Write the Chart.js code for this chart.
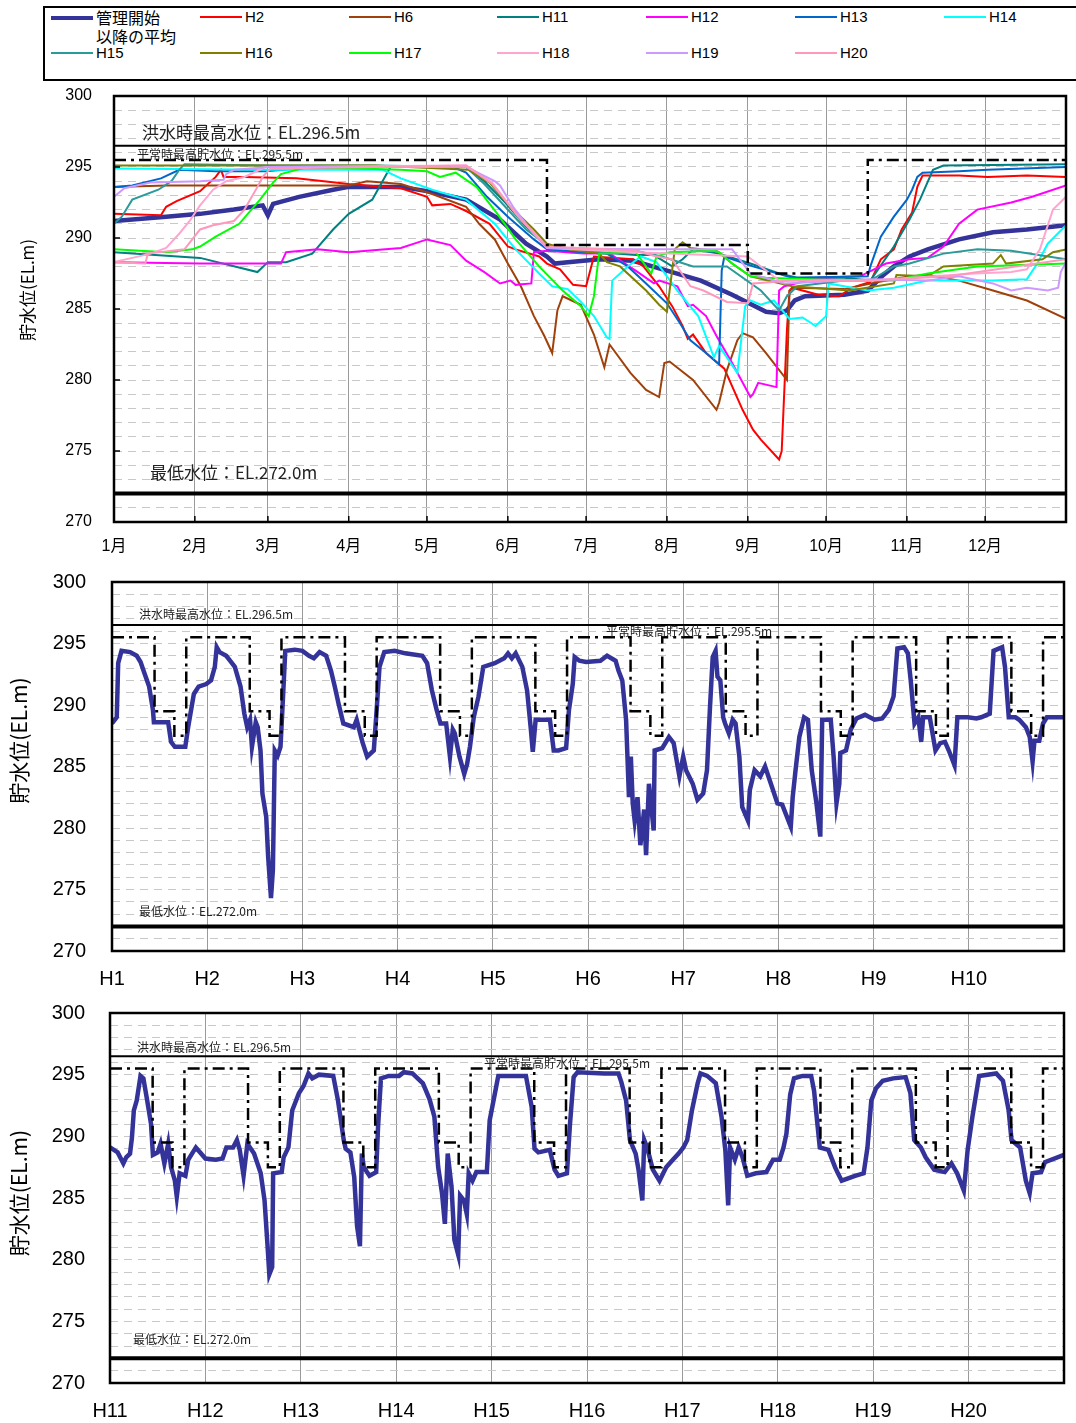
<!DOCTYPE html>
<html>
<head>
<meta charset="utf-8">
<script src="https://cdn.jsdelivr.net/npm/chart.js@4.4.0/dist/chart.umd.min.js"></script>
<style>
  body { margin: 0; background: #fff; width: 1076px; height: 1423px; position: relative; overflow: hidden;
         font-family: "Liberation Sans", Arial, sans-serif; }
  #legendBox { position: absolute; left: 43px; top: 6px; width: 1050px; height: 75px; border: 2px solid #000; box-sizing: border-box; }
  .item { position: absolute; display: flex; align-items: center; font-size: 15px; color: #000; height: 18px; line-height: 18px; }
  .item .sw { display: inline-block; width: 42px; margin-right: 3px; }
  .item.multi { align-items: flex-start; height: auto; font-family: "Noto Sans CJK JP"; font-size: 16px; line-height: 19px; }
  .item.multi .sw { margin-top: 8px; }
  canvas { position: absolute; left: 0; }
</style>
</head>
<body>
<div id="legendBox"></div>
<div id="legend"></div>
<canvas id="c1" width="1076" height="480" style="top:86px"></canvas>
<canvas id="c2" width="1076" height="430" style="top:570px"></canvas>
<canvas id="c3" width="1076" height="423" style="top:1000px"></canvas>
<script>
// ---- axis categories / tick labels ----
const monthStarts = [0, 31, 59, 90, 120, 151, 181, 212, 243, 273, 304, 334, 365];
const monthLabels = ['1月', '2月', '3月', '4月', '5月', '6月', '7月', '8月', '9月', '10月', '11月', '12月', ''];
const yearsA = ['H1', 'H2', 'H3', 'H4', 'H5', 'H6', 'H7', 'H8', 'H9', 'H10', ''];
const yearsB = ['H11', 'H12', 'H13', 'H14', 'H15', 'H16', 'H17', 'H18', 'H19', 'H20', ''];
const yLabelValues = [270, 275, 280, 285, 290, 295, 300];

// ---- reference levels (EL.m) ----
const floodLevel = 296.5;
const minLevel = 272.0;
// rule curve: [day of year, level]
const ruleTop = [[0, 295.5], [166, 295.5], [166, 289.5], [243, 289.5], [243, 287.5], [289, 287.5], [289, 295.5], [365, 295.5]];
// rule curve used in the multi-year charts: [fraction of year, level]
const ruleYear = [[0, 295.5], [0.447, 295.5], [0.447, 289.5], [0.655, 289.5], [0.655, 287.5], [0.78, 287.5], [0.78, 295.5], [1, 295.5]];

// ---- yearly water levels, [day of year, level] ----
const avgLevel = [[0,291.2],[20,291.5],[33,291.7],[46,292.0],[57,292.3],[59,291.6],[61,292.4],[71,292.9],[84,293.4],[90,293.6],[110,293.6],[120,293.3],[135,292.7],[148,291.3],[158,289.6],[166,288.7],[169,288.2],[174,288.3],[186,288.5],[199,288.4],[212,287.7],[225,287.0],[237,286.0],[250,284.8],[255,284.7],[258,284.9],[261,285.6],[265,285.9],[280,286.0],[289,286.3],[295,287.4],[299,288.0],[305,288.7],[312,289.2],[324,289.9],[337,290.4],[350,290.6],[365,290.9]];
const h2 = [[0,291.7],[18,291.6],[20,292.2],[24,292.6],[33,293.3],[39,294.3],[41,294.8],[42,294.3],[50,294.3],[70,294.2],[90,293.8],[110,293.5],[120,292.9],[122,292.3],[129,292.4],[135,291.9],[144,291.0],[151,289.4],[154,289.2],[163,288.7],[166,288.2],[171,287.8],[176,286.7],[181,286.6],[184,288.7],[199,288.5],[203,288.0],[209,286.6],[214,285.2],[218,283.8],[220,282.9],[222,283.2],[227,281.9],[234,280.8],[241,277.9],[245,276.5],[248,275.8],[255,274.4],[256,275.0],[258,283.5],[259,286.3],[260,286.5],[270,286.0],[278,285.9],[283,286.5],[290,286.9],[294,288.5],[299,289.2],[302,290.6],[306,291.8],[308,293.6],[310,294.4],[324,294.4],[335,294.3],[350,294.4],[365,294.3]];
const h6 = [[0,293.6],[20,293.7],[58,293.7],[90,293.7],[97,294.0],[110,293.8],[122,293.1],[135,292.2],[140,291.0],[146,289.9],[151,288.2],[156,286.6],[161,284.5],[165,283.1],[168,281.9],[170,284.9],[172,285.9],[179,285.3],[184,283.2],[188,280.9],[190,282.5],[198,280.5],[204,279.3],[209,278.8],[211,281.2],[213,281.3],[222,280.0],[231,277.9],[232,278.4],[235,280.7],[239,282.8],[241,283.3],[245,283.0],[250,281.9],[258,280.0],[259,286.3],[261,286.5],[280,286.4],[293,286.9],[305,287.3],[312,287.4],[324,287.0],[337,286.3],[350,285.6],[365,284.3]];
const h11 = [[0,289.0],[33,288.6],[55,287.6],[59,288.3],[66,288.3],[76,288.9],[84,290.6],[90,291.7],[99,292.7],[106,295.0],[135,295.0],[142,294.0],[150,292.5],[158,290.8],[166,289.4],[175,289.0],[186,289.0],[200,288.8],[207,288.8],[214,288.0],[218,288.5],[222,289.2],[232,288.9],[244,288.2],[255,287.5],[262,287.2],[280,287.2],[290,287.0],[299,289.4],[305,291.3],[309,292.7],[314,294.8],[318,295.1],[365,295.2]];
const h12 = [[0,288.3],[33,288.2],[64,288.2],[66,289.0],[78,289.2],[90,289.0],[110,289.3],[120,289.9],[129,289.5],[135,288.4],[142,287.6],[148,286.8],[152,287.0],[154,286.7],[160,286.8],[161,289.0],[166,289.1],[180,288.9],[190,288.9],[200,287.7],[207,286.8],[209,287.0],[216,286.6],[220,285.2],[222,285.3],[227,284.5],[231,283.1],[237,281.2],[244,278.8],[245,279.0],[247,279.8],[254,279.5],[255,286.3],[257,286.6],[270,287.2],[286,287.3],[296,288.2],[305,288.5],[312,288.6],[318,289.4],[324,291.0],[331,292.0],[344,292.5],[352,292.9],[365,293.7]];
const h13 = [[0,293.6],[7,293.7],[18,294.2],[25,294.8],[39,294.7],[58,294.7],[71,294.9],[100,295.0],[130,295.0],[135,294.6],[143,292.9],[151,291.5],[161,289.9],[166,289.2],[180,289.0],[189,288.9],[197,288.0],[204,286.8],[212,285.4],[217,284.0],[221,282.8],[227,281.9],[232,281.1],[233,287.7],[234,288.7],[245,288.0],[260,287.2],[289,287.3],[290,288.0],[294,290.1],[299,291.5],[304,292.7],[306,293.4],[308,294.3],[310,294.6],[324,294.7],[335,294.8],[365,295.0]];
const h14 = [[0,294.9],[58,294.8],[103,294.8],[110,294.2],[122,293.4],[135,292.7],[146,291.0],[154,289.2],[163,287.5],[168,286.6],[174,286.4],[179,285.5],[184,284.5],[189,283.0],[190,282.9],[191,287.0],[197,288.0],[202,288.7],[208,288.3],[216,286.3],[224,284.5],[230,281.6],[232,282.4],[239,280.5],[242,285.2],[244,285.6],[248,285.3],[253,285.6],[259,284.3],[264,284.4],[269,283.8],[273,284.5],[274,286.8],[289,286.3],[299,286.5],[312,287.0],[337,287.0],[350,287.1],[354,288.2],[358,289.6],[365,290.9]];
const h15 = [[0,291.0],[3,291.5],[7,292.7],[17,293.4],[22,294.0],[25,294.8],[27,295.2],[60,295.1],[100,295.1],[135,295.0],[142,293.8],[150,292.2],[158,290.6],[166,289.5],[175,289.2],[190,288.9],[200,289.1],[210,288.7],[222,288.0],[235,288.0],[248,286.3],[255,284.9],[258,285.9],[262,286.6],[280,287.0],[290,287.0],[299,288.0],[305,288.2],[318,288.9],[331,289.2],[344,289.1],[365,288.5]];
const h16 = [[0,295.1],[100,295.1],[136,294.8],[144,293.9],[152,292.2],[161,290.6],[166,289.6],[174,289.2],[186,288.9],[189,288.3],[194,288.0],[204,286.3],[209,285.3],[212,284.8],[215,289.2],[218,289.7],[221,289.3],[225,289.2],[231,289.1],[237,288.2],[244,287.3],[260,286.6],[282,286.3],[299,286.8],[300,287.4],[312,287.3],[318,288.0],[337,288.2],[340,288.8],[342,288.2],[356,288.5],[360,289.0],[365,289.2]];
const h17 = [[0,289.2],[20,289.0],[30,289.2],[33,289.4],[39,290.1],[48,291.0],[56,292.7],[61,293.9],[64,294.5],[74,295.0],[110,294.8],[120,294.7],[125,294.3],[131,294.6],[139,293.6],[147,291.7],[154,289.9],[163,288.0],[172,286.3],[179,285.2],[182,284.5],[184,285.9],[186,288.9],[200,289.0],[206,287.5],[208,288.7],[213,289.0],[230,289.1],[232,289.0],[237,288.2],[244,287.3],[250,287.2],[280,287.0],[299,287.0],[312,287.5],[331,288.0],[365,288.2]];
const h18 = [[0,288.3],[7,288.6],[14,288.9],[20,289.3],[25,290.3],[29,291.2],[33,292.3],[38,293.4],[43,294.0],[50,294.3],[58,295.0],[135,295.1],[145,293.9],[155,291.5],[166,289.3],[200,289.0],[243,288.7],[255,287.0],[290,287.0],[330,287.5],[344,287.6],[350,287.8],[355,289.2],[360,292.0],[365,292.9]];
const h19 = [[0,292.9],[4,293.5],[14,293.9],[33,294.0],[42,294.1],[43,294.5],[46,294.8],[60,295.0],[135,295.0],[146,294.0],[148,293.7],[153,292.2],[161,290.3],[166,289.3],[200,289.2],[237,289.2],[244,287.5],[257,286.8],[290,287.1],[312,287.0],[324,287.3],[337,286.8],[344,286.3],[350,286.5],[358,286.3],[362,286.5],[363,287.6],[365,288.3]];
const h20 = [[0,288.3],[12,288.2],[13,288.9],[27,289.2],[33,290.6],[38,290.9],[46,291.2],[50,292.0],[55,293.6],[57,294.3],[60,294.9],[100,295.0],[135,295.1],[145,293.8],[155,291.5],[166,289.4],[200,289.1],[208,288.7],[214,288.5],[221,286.6],[226,286.3],[235,285.5],[243,285.4],[245,286.8],[260,287.0],[290,287.0],[320,287.3],[365,288.5]];

// ---- long-term water levels, [years since start, level] ----
const levelH1toH10 = [[0.00,288.5],[0.05,289.0],[0.065,293.4],[0.10,294.4],[0.19,294.3],[0.26,294.0],[0.30,293.5],[0.34,292.6],[0.39,291.5],[0.43,289.6],[0.44,288.6],[0.59,288.6],[0.62,287.0],[0.66,286.6],[0.77,286.6],[0.80,288.2],[0.86,290.9],[0.91,291.5],[0.99,291.7],[1.04,292.0],[1.08,293.1],[1.10,294.7],[1.13,294.3],[1.20,294.0],[1.24,293.6],[1.29,293.1],[1.35,291.5],[1.39,289.3],[1.42,288.2],[1.45,288.8],[1.47,286.6],[1.51,288.6],[1.53,288.2],[1.56,286.3],[1.58,282.8],[1.62,280.9],[1.64,277.7],[1.67,274.3],[1.69,276.6],[1.71,286.3],[1.74,285.9],[1.77,286.6],[1.80,291.2],[1.82,294.4],[1.92,294.5],[2.00,294.4],[2.07,294.0],[2.12,293.8],[2.18,294.3],[2.25,294.0],[2.30,292.8],[2.34,291.5],[2.38,290.1],[2.43,288.5],[2.54,288.2],[2.57,288.8],[2.63,287.0],[2.68,285.8],[2.75,286.3],[2.78,289.6],[2.81,293.1],[2.86,294.3],[2.97,294.4],[3.08,294.2],[3.26,294.0],[3.31,293.4],[3.36,291.2],[3.41,289.6],[3.45,288.5],[3.51,288.5],[3.55,285.8],[3.58,288.0],[3.60,287.7],[3.65,285.8],[3.70,284.4],[3.73,285.2],[3.76,286.6],[3.80,289.0],[3.85,290.7],[3.90,293.1],[4.02,293.4],[4.12,293.8],[4.16,294.2],[4.20,293.8],[4.24,294.2],[4.31,293.1],[4.36,291.2],[4.40,288.0],[4.42,286.2],[4.45,288.8],[4.48,288.8],[4.60,288.8],[4.64,286.3],[4.69,286.3],[4.77,286.5],[4.80,289.6],[4.84,291.7],[4.86,293.9],[4.91,293.6],[4.98,293.5],[5.13,293.6],[5.20,294.0],[5.29,293.6],[5.32,292.8],[5.36,292.0],[5.40,288.8],[5.43,282.5],[5.45,285.8],[5.47,282.0],[5.49,280.6],[5.52,282.5],[5.55,278.6],[5.59,281.5],[5.61,277.8],[5.64,283.6],[5.69,279.8],[5.70,286.3],[5.78,286.5],[5.85,287.4],[5.90,286.9],[5.96,284.2],[6.00,285.8],[6.03,284.7],[6.10,283.6],[6.15,282.3],[6.21,282.8],[6.25,284.7],[6.28,289.6],[6.31,293.9],[6.34,294.4],[6.36,292.3],[6.39,292.0],[6.42,289.0],[6.44,288.5],[6.48,287.7],[6.52,288.8],[6.55,288.5],[6.59,285.8],[6.62,281.7],[6.68,280.6],[6.70,283.1],[6.75,284.7],[6.81,284.2],[6.86,285.0],[6.93,283.4],[6.99,282.0],[7.04,281.9],[7.13,280.1],[7.15,282.5],[7.18,284.7],[7.22,287.4],[7.27,289.0],[7.31,288.8],[7.35,284.7],[7.40,282.0],[7.44,279.3],[7.46,288.8],[7.55,288.8],[7.58,285.8],[7.61,282.0],[7.64,283.6],[7.65,286.1],[7.71,286.3],[7.76,288.0],[7.82,288.9],[7.91,289.2],[8.01,288.8],[8.09,288.9],[8.16,289.6],[8.21,290.7],[8.25,294.6],[8.32,294.7],[8.36,294.2],[8.39,292.0],[8.43,288.5],[8.47,289.0],[8.50,287.0],[8.52,289.0],[8.59,289.0],[8.65,286.3],[8.70,286.9],[8.75,287.0],[8.79,286.3],[8.85,285.1],[8.88,289.0],[8.99,289.0],[9.08,288.9],[9.13,289.0],[9.22,289.3],[9.26,294.4],[9.35,294.7],[9.38,293.1],[9.42,289.0],[9.49,289.0],[9.53,288.8],[9.60,288.2],[9.64,287.4],[9.67,285.4],[9.69,287.1],[9.74,287.1],[9.78,288.5],[9.82,289.0],[10.0,289.0]];
const levelH11toH20 = [[0.00,289.1],[0.08,288.7],[0.14,287.8],[0.17,288.3],[0.21,288.6],[0.23,289.9],[0.25,292.1],[0.28,292.9],[0.32,294.9],[0.35,294.7],[0.39,292.9],[0.43,291.0],[0.45,288.5],[0.50,288.7],[0.53,289.4],[0.57,287.8],[0.61,289.4],[0.64,287.5],[0.68,286.4],[0.70,285.1],[0.73,287.0],[0.79,286.8],[0.82,288.1],[0.90,289.1],[1.00,288.2],[1.11,288.1],[1.18,288.2],[1.22,289.1],[1.29,289.1],[1.33,289.7],[1.36,288.9],[1.40,286.8],[1.44,289.4],[1.51,288.6],[1.58,287.0],[1.62,284.8],[1.65,281.3],[1.67,278.8],[1.70,279.4],[1.71,287.0],[1.80,287.1],[1.82,288.3],[1.87,289.1],[1.91,292.1],[1.98,293.5],[2.03,294.1],[2.08,295.1],[2.12,294.7],[2.19,295.0],[2.34,294.9],[2.39,292.9],[2.45,289.7],[2.47,289.0],[2.52,288.7],[2.56,286.7],[2.59,282.7],[2.62,281.1],[2.64,288.6],[2.66,287.5],[2.72,286.8],[2.79,287.1],[2.81,290.8],[2.84,294.7],[2.92,294.9],[3.03,294.9],[3.08,295.2],[3.17,295.1],[3.28,294.3],[3.35,293.0],[3.40,291.6],[3.44,287.5],[3.48,285.4],[3.51,282.9],[3.54,288.6],[3.58,285.9],[3.61,281.6],[3.65,280.4],[3.67,285.2],[3.71,284.8],[3.74,283.7],[3.76,287.0],[3.80,286.4],[3.84,287.1],[3.95,287.1],[3.98,291.3],[4.04,293.7],[4.07,294.9],[4.18,294.9],[4.36,294.9],[4.42,292.4],[4.45,289.0],[4.49,288.7],[4.61,288.9],[4.66,287.3],[4.70,286.8],[4.79,287.0],[4.82,290.8],[4.86,294.8],[4.90,295.2],[5.18,295.1],[5.33,295.1],[5.36,294.4],[5.41,292.9],[5.45,289.7],[5.51,288.6],[5.54,287.3],[5.58,284.8],[5.60,289.7],[5.63,289.1],[5.69,287.3],[5.76,286.4],[5.83,287.5],[5.90,288.1],[5.96,288.6],[6.01,289.1],[6.05,289.7],[6.10,292.1],[6.16,294.3],[6.19,295.1],[6.26,294.9],[6.35,294.3],[6.41,291.6],[6.45,288.9],[6.48,284.4],[6.50,289.1],[6.55,288.1],[6.59,289.1],[6.63,288.3],[6.68,286.8],[6.77,287.0],[6.88,287.1],[6.95,288.1],[7.02,288.1],[7.06,289.1],[7.09,290.2],[7.13,293.4],[7.17,294.7],[7.26,294.9],[7.35,294.9],[7.38,293.7],[7.44,289.1],[7.53,288.9],[7.60,287.5],[7.63,287.0],[7.67,286.4],[7.81,286.8],[7.90,287.0],[7.94,289.1],[7.98,292.9],[8.03,293.9],[8.10,294.5],[8.21,294.7],[8.34,294.8],[8.39,293.5],[8.43,289.7],[8.50,289.1],[8.55,288.3],[8.64,287.3],[8.75,287.1],[8.82,287.8],[8.88,287.0],[8.95,285.6],[8.99,288.9],[9.04,291.6],[9.11,294.9],[9.29,295.1],[9.36,294.5],[9.42,292.1],[9.45,289.7],[9.54,289.1],[9.60,286.4],[9.64,285.4],[9.67,287.0],[9.76,287.1],[9.80,287.9],[10.0,288.5]];

const NAVY = '#333399';
const series = [
  { name: '管理開始\n以降の平均', data: avgLevel, color: NAVY, width: 4.5 },
  { name: 'H2',  data: h2,  color: '#ff0000', width: 2 },
  { name: 'H6',  data: h6,  color: '#a0400a', width: 2 },
  { name: 'H11', data: h11, color: '#008080', width: 2 },
  { name: 'H12', data: h12, color: '#ff00ff', width: 2 },
  { name: 'H13', data: h13, color: '#0066cc', width: 2 },
  { name: 'H14', data: h14, color: '#00ffff', width: 2 },
  { name: 'H15', data: h15, color: '#2a9a9a', width: 2 },
  { name: 'H16', data: h16, color: '#808000', width: 2 },
  { name: 'H17', data: h17, color: '#00ff00', width: 2 },
  { name: 'H18', data: h18, color: '#ffa6d0', width: 2 },
  { name: 'H19', data: h19, color: '#cc99ff', width: 2 },
  { name: 'H20', data: h20, color: '#ff99bb', width: 2 }
];

// ---- HTML legend ----
(function buildLegend() {
  const cols = [51, 200, 349, 497, 646, 795, 944];
  const rows = [8, 44];
  const box = document.getElementById('legend');
  series.forEach((s, i) => {
    const div = document.createElement('div');
    const multi = s.name.includes('\n');
    div.className = 'item' + (multi ? ' multi' : '');
    div.style.left = cols[i % 7] + 'px';
    div.style.top = rows[Math.floor(i / 7)] + 'px';
    const sw = document.createElement('span');
    sw.className = 'sw';
    sw.style.height = (s.width > 3 ? 4 : 2) + 'px';
    sw.style.background = s.color;
    const txt = document.createElement('span');
    txt.style.whiteSpace = 'pre-line';
    txt.textContent = s.name;
    div.appendChild(sw);
    div.appendChild(txt);
    box.appendChild(div);
  });
})();

const toXY = pts => pts.map(([x, y]) => ({ x, y }));
const flatLine = (x0, x1, v) => [{ x: x0, y: v }, { x: x1, y: v }];
function repeatRule(years) {
  const out = [];
  for (let k = 0; k < years; k++) ruleYear.forEach(([f, v]) => out.push({ x: k + f, y: v }));
  return out;
}
function refSets(x0, x1, rulePts) {
  return [
    { data: rulePts, borderColor: '#000', borderWidth: 2.5, borderDash: [12, 5, 3, 5] },
    { data: flatLine(x0, x1, floodLevel), borderColor: '#000', borderWidth: 2 },
    { data: flatLine(x0, x1, minLevel), borderColor: '#000', borderWidth: 4 }
  ];
}

// frame, notes, small tick marks and the rotated axis title
const decor = {
  id: 'decor',
  afterDatasetsDraw(chart, args, o) {
    const { ctx, chartArea: a, scales: { x, y } } = chart;
    ctx.save();
    if (o.marks) {
      ctx.strokeStyle = '#000'; ctx.lineWidth = 1.5;
      ctx.beginPath();
      yLabelValues.forEach(v => { const py = y.getPixelForValue(v); ctx.moveTo(a.left, py); ctx.lineTo(a.left + 6, py); });
      monthStarts.forEach(v => { const px = x.getPixelForValue(v); ctx.moveTo(px, a.bottom); ctx.lineTo(px, a.bottom - 6); });
      ctx.stroke();
    }
    ctx.fillStyle = '#222';
    ctx.textBaseline = 'middle';
    ctx.textAlign = 'left';
    o.notes.forEach(n => {
      ctx.font = n.size + 'px "Noto Sans CJK JP"';
      ctx.fillText(n.text, a.left + n.dx, y.getPixelForValue(n.at));
    });
    ctx.strokeStyle = '#000';
    ctx.lineWidth = 2.5;
    ctx.strokeRect(a.left, a.top, a.right - a.left, a.bottom - a.top);

    const t = o.title;
    ctx.translate(t.x, (a.top + a.bottom) / 2 + t.dy);
    ctx.rotate(-Math.PI / 2);
    ctx.fillStyle = '#000';
    ctx.textAlign = 'center';
    ctx.font = t.size + 'px "Noto Sans CJK JP"';
    ctx.fillText('貯水位(EL.m)', 0, 0);
    ctx.restore();
  }
};

function buildChart(id, c) {
  const levels = [];
  for (let v = 270; v <= 300; v++) levels.push(v);
  return new Chart(document.getElementById(id), {
    type: 'line',
    data: { datasets: c.datasets },
    options: {
      responsive: false,
      animation: false,
      events: [],
      layout: { padding: { top: c.padTop, right: c.padRight, left: 0, bottom: 0 } },
      elements: { point: { radius: 0 }, line: { tension: 0, fill: false } },
      plugins: { legend: { display: false }, tooltip: { enabled: false }, decor: c.decor },
      scales: {
        x: {
          type: 'linear', min: c.xMin, max: c.xMax,
          afterBuildTicks: s => { s.ticks = c.xTicks.map(v => ({ value: v })); },
          afterFit: s => { s.height = c.xHeight; s.paddingLeft = 0; s.paddingRight = 0; },
          ticks: {
            autoSkip: false, maxRotation: 0, padding: c.xPad, color: '#000',
            font: { family: '"Liberation Sans", "Noto Sans CJK JP"', size: c.xFont },
            callback: (v, i) => c.xLabels[i]
          },
          grid: { color: '#9a9a9a', lineWidth: 1, drawTicks: false },
          border: { display: false }
        },
        y: {
          min: 270, max: 300,
          afterBuildTicks: s => { s.ticks = levels.map(v => ({ value: v })); },
          afterFit: s => { s.width = c.yWidth; s.paddingTop = 0; s.paddingBottom = 0; },
          ticks: {
            autoSkip: false, padding: c.yPad, color: '#000',
            font: { family: '"Liberation Sans"', size: c.yFont },
            callback: v => (yLabelValues.includes(Math.round(v)) ? String(Math.round(v)) : '')
          },
          grid: { color: '#c8c8c8', lineWidth: 1, drawTicks: false },
          border: { display: false, dash: [8, 6] }
        }
      }
    },
    plugins: [decor]
  });
}

// ---- chart 1: yearly curves ----
const yearly = series.slice().reverse().map(s => ({
  data: toXY(s.data), borderColor: s.color, borderWidth: s.width
}));
buildChart('c1', {
  datasets: refSets(0, 365, toXY(ruleTop)).concat(yearly),
  padTop: 10, padRight: 10, yWidth: 114, xHeight: 44,
  xMin: 0, xMax: 365, xTicks: monthStarts, xLabels: monthLabels,
  xPad: 15, xFont: 16, yPad: 22, yFont: 16,
  decor: {
    marks: true,
    title: { x: 28, dy: -19, size: 17 },
    notes: [
      { text: '洪水時最高水位：EL.296.5m', dx: 28, at: 297.4, size: 17 },
      { text: '平常時最高貯水位：EL.295.5m', dx: 23, at: 295.85, size: 12 },
      { text: '最低水位：EL.272.0m', dx: 36, at: 273.45, size: 17 }
    ]
  }
});

// ---- chart 2: H1 - H10 ----
const yearTicks = [0, 1, 2, 3, 4, 5, 6, 7, 8, 9, 10];
buildChart('c2', {
  datasets: refSets(0, 10, repeatRule(10)).concat([{ data: toXY(levelH1toH10), borderColor: NAVY, borderWidth: 4.5 }]),
  padTop: 12, padRight: 12, yWidth: 112, xHeight: 49,
  xMin: 0, xMax: 10, xTicks: yearTicks, xLabels: yearsA,
  xPad: 16, xFont: 20, yPad: 26, yFont: 20,
  decor: {
    marks: false,
    title: { x: 19, dy: -26, size: 21 },
    notes: [
      { text: '洪水時最高水位：EL.296.5m', dx: 27, at: 297.4, size: 12 },
      { text: '平常時最高貯水位：EL.295.5m', dx: 494, at: 296.0, size: 12 },
      { text: '最低水位：EL.272.0m', dx: 27, at: 273.2, size: 12 }
    ]
  }
});

// ---- chart 3: H11 - H20 ----
buildChart('c3', {
  datasets: refSets(0, 10, repeatRule(10)).concat([{ data: toXY(levelH11toH20), borderColor: NAVY, borderWidth: 4.5 }]),
  padTop: 13, padRight: 12, yWidth: 110, xHeight: 40,
  xMin: 0, xMax: 10, xTicks: yearTicks, xLabels: yearsB,
  xPad: 16, xFont: 20, yPad: 25, yFont: 20,
  decor: {
    marks: false,
    title: { x: 19, dy: -5, size: 21 },
    notes: [
      { text: '洪水時最高水位：EL.296.5m', dx: 27, at: 297.2, size: 12 },
      { text: '平常時最高貯水位：EL.295.5m', dx: 374, at: 295.9, size: 12 },
      { text: '最低水位：EL.272.0m', dx: 23, at: 273.5, size: 12 }
    ]
  }
});
</script>
</body>
</html>
